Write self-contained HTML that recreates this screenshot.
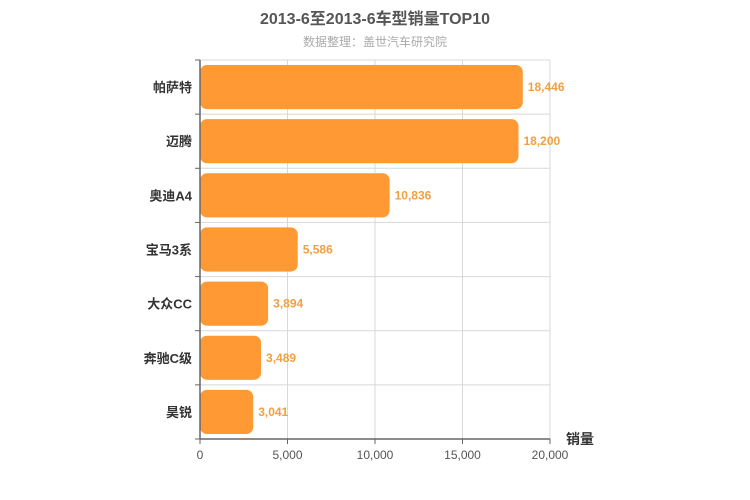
<!DOCTYPE html>
<html><head><meta charset="utf-8"><style>
body{margin:0;background:#fff;}
svg{display:block;font-family:"Liberation Sans","Noto Sans CJK SC",sans-serif;}
</style></head><body>
<svg id="c" width="750" height="500">
<text x="375" y="24" text-anchor="middle" font-size="16" font-weight="bold" fill="#555">2013-6至2013-6车型销量TOP10</text>
<text x="375" y="46" text-anchor="middle" font-size="12" fill="#aaa">数据整理：盖世汽车研究院</text>
<g id="grid"></g><g id="bars"></g><g id="axes"></g>
<text x="580" y="444" text-anchor="middle" font-size="14" font-weight="bold" fill="#333">销量</text>
</svg>
<script>
const categories=["帕萨特","迈腾","奥迪A4","宝马3系","大众CC","奔驰C级","昊锐"];
const values=[18446,18200,10836,5586,3894,3489,3041];
const valueLabels=["18,446","18,200","10,836","5,586","3,894","3,489","3,041"];
const ticks=[0,5000,10000,15000,20000];
const tickLabels=["0","5,000","10,000","15,000","20,000"];
const L=200,R=550,T=60,B=439,max=20000;
const rowH=(B-T)/categories.length;
const x=v=>L+(R-L)*v/max;
const y=i=>T+i*rowH;
const ns="http://www.w3.org/2000/svg";
function mk(tag,attrs,parent,text){const e=document.createElementNS(ns,tag);for(const k in attrs)e.setAttribute(k,attrs[k]);if(text!=null)e.textContent=text;document.getElementById(parent).appendChild(e);return e;}
ticks.forEach((t,i)=>{
 if(i>0){const g=mk('line',{x1:x(t),x2:x(t),y1:T,y2:B,stroke:'#d8d8d8'},'grid');
 
 }
 const tk=mk('line',{x1:x(t),x2:x(t),y1:B,y2:B+5,stroke:'#666'},'axes');
 
 
 const lb=mk('text',{x:x(t),y:B+20,'text-anchor':'middle','font-size':12,fill:'#555'},'axes',tickLabels[i]);
 
 
});
for(let i=0;i<=categories.length;i++){
 const g=mk('line',{x1:L,x2:R,y1:y(i),y2:y(i),stroke:'#d8d8d8'},'grid');
 
 
 const tk=mk('line',{x1:L-5,x2:L,y1:y(i),y2:y(i),stroke:'#666'},'axes');
 
 
}
categories.forEach((c,i)=>{
 const cy=y(i)+rowH/2;
 const r=mk('rect',{x:L,y:y(i)+5,width:x(values[i])-L,height:rowH-10,rx:7,ry:7,fill:'#ff9933'},'bars');
 
 
 const v=mk('text',{x:x(values[i])+5,y:cy+4,'font-size':12,'font-weight':'bold',fill:'#f0a040'},'bars',valueLabels[i]);
 
 
 const cl=mk('text',{x:L-8,y:cy+5,'text-anchor':'end','font-size':13,'font-weight':'bold',fill:'#333'},'axes',c);
 
 
});
const ax=mk('line',{x1:L,x2:L,y1:T,y2:B,stroke:'#666','stroke-width':1.5},'axes');


const bx=mk('line',{x1:L,x2:R,y1:B,y2:B,stroke:'#666','stroke-width':1.5},'axes');


</script>
</body></html>
